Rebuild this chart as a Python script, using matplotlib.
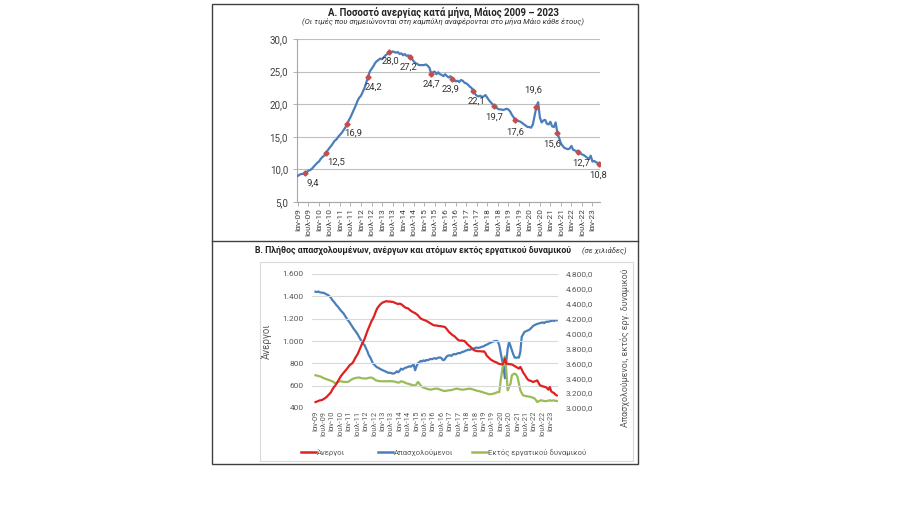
import matplotlib
matplotlib.use('Agg')
import matplotlib.pyplot as plt
import matplotlib.ticker as mticker
from matplotlib.lines import Line2D
from matplotlib.patches import Rectangle
import numpy as np

plt.rcParams['font.family'] = ['Roboto', 'DejaVu Sans']

# ---- data (monthly, Jan 2009 - May 2023) ----
years = [str(y)[2:] for y in range(2009, 2024)]
tick_labels = []
for y in years:
    tick_labels.append('Ιαν-' + y)
    if y != '23':
        tick_labels.append('Ιουλ-' + y)

# unemployment rate %
rate = [
    9.0, 9.2, 9.3, 9.3, 9.4, 9.6, 9.8, 9.9, 10.1, 10.4, 10.7, 11.0,
    11.2, 11.6, 11.9, 12.1, 12.5, 12.9, 13.3, 13.6, 14.0, 14.4, 14.6, 15.0,
    15.3, 15.6, 16.0, 16.4, 16.9, 17.5, 18.0, 18.6, 19.2, 19.8, 20.5, 21.0,
    21.3, 21.9, 22.5, 23.3, 24.2, 25.0, 25.4, 25.8, 26.3, 26.6, 26.8, 27.0,
    26.9, 27.2, 27.5, 27.7, 28.0, 27.9, 28.1, 28.0, 27.9, 28.0, 27.7, 27.8,
    27.5, 27.7, 27.4, 27.5, 27.2, 27.0, 26.6, 26.3, 26.2, 26.0, 26.0, 26.0,
    26.0, 26.1, 25.9, 25.6, 24.7, 24.9, 25.0, 24.6, 24.9, 24.6, 24.5, 24.3,
    24.6, 24.3, 24.1, 24.3, 23.9, 23.7, 23.5, 23.6, 23.4, 23.7, 23.6, 23.3,
    23.2, 23.0, 22.7, 22.5, 22.1, 21.6, 21.3, 21.2, 21.3, 21.1, 21.2, 21.4,
    21.0, 20.6, 20.3, 20.0, 19.7, 19.5, 19.3, 19.2, 19.2, 19.1, 19.2, 19.3,
    19.2, 18.9, 18.4, 18.0, 17.6, 17.5, 17.4, 17.3, 17.1, 16.9, 16.7, 16.5,
    16.5, 16.4, 16.9, 18.2, 19.6, 20.3, 18.0, 17.2, 17.5, 17.6, 17.0, 16.9,
    17.3, 16.6, 16.5, 17.2, 15.6, 14.8, 14.0, 13.6, 13.3, 13.2, 13.1, 13.2,
    13.6, 13.0, 12.9, 12.8, 12.7, 12.5, 12.3, 12.2, 12.0, 11.8, 11.6, 12.1,
    11.2, 11.3, 11.1, 11.0, 10.8,
]

# thousands of persons
unemployed = [
    453, 458, 462, 468, 470, 474, 482, 490, 500, 513, 525, 540,
    565, 585, 600, 618, 640, 662, 684, 700, 715, 730, 744, 760,
    778, 790, 798, 815, 840, 862, 881, 910, 940, 970, 992, 1020,
    1055, 1090, 1120, 1150, 1180, 1202, 1230, 1265, 1292, 1310, 1325, 1337,
    1345, 1350, 1355, 1357, 1352, 1355, 1350, 1351, 1345, 1340, 1335, 1330,
    1335, 1330, 1320, 1310, 1300, 1295, 1292, 1280, 1270, 1262, 1255, 1250,
    1240, 1230, 1215, 1202, 1195, 1190, 1185, 1180, 1172, 1165, 1158, 1150,
    1142, 1140, 1138, 1135, 1133, 1133, 1132, 1128, 1127, 1115, 1100, 1082,
    1072, 1060, 1050, 1043, 1030, 1018, 1007, 1003, 1005, 1002, 1001, 990,
    975, 962, 953, 940, 928, 917, 913, 910, 908, 909, 908, 905,
    908, 895, 870, 857, 845, 833, 825, 818, 813, 808, 800, 795,
    792, 790, 800, 845, 798, 795, 793, 792, 790, 782, 775, 768,
    760, 753, 768, 745, 718, 700, 680, 660, 648, 645, 640, 633,
    638, 640, 648, 625, 603, 598, 594, 590, 588, 578, 564, 588,
    550, 540, 534, 520, 513,
]

employed = [
    4562, 4558, 4565, 4555, 4550, 4549, 4545, 4535, 4525, 4517, 4500, 4480,
    4450, 4430, 4405, 4380, 4360, 4335, 4310, 4290, 4270, 4240, 4210, 4180,
    4158, 4130, 4100, 4070, 4046, 4020, 3990, 3956, 3925, 3890, 3860, 3844,
    3800, 3760, 3709, 3680, 3640, 3597, 3580, 3560, 3545, 3538, 3525, 3515,
    3507, 3500, 3490, 3482, 3471, 3475, 3468, 3462, 3465, 3475, 3493, 3480,
    3500, 3529, 3515, 3530, 3540, 3545, 3552, 3560, 3555, 3570, 3583, 3507,
    3560, 3600, 3615, 3633, 3625, 3640, 3630, 3645, 3642, 3650, 3660, 3655,
    3664, 3670, 3660, 3672, 3678, 3678, 3665, 3642, 3650, 3680, 3700, 3705,
    3709, 3700, 3720, 3725, 3720, 3731, 3740, 3735, 3748, 3754, 3760, 3770,
    3775, 3785, 3780, 3790, 3795, 3800, 3808, 3812, 3805, 3812, 3820, 3825,
    3830, 3843, 3850, 3860, 3870, 3880, 3888, 3895, 3900, 3902, 3895, 3843,
    3740, 3641, 3560, 3400, 3619, 3800, 3888, 3830, 3776, 3720, 3677, 3675,
    3680, 3677, 3754, 3956, 3990, 4023, 4030, 4040, 4046, 4060, 4080, 4100,
    4113, 4120, 4130, 4135, 4140, 4145, 4150, 4140, 4155, 4160, 4158, 4165,
    4170, 4175, 4168, 4180, 4178,
]

inactive = [
    3440, 3435, 3430, 3425, 3420, 3408, 3400, 3392, 3385, 3380, 3372, 3365,
    3360, 3345, 3336, 3340, 3350, 3355, 3359, 3355, 3352, 3350, 3350, 3350,
    3360, 3375, 3385, 3395, 3400, 3405, 3408, 3410, 3405, 3400, 3398, 3395,
    3395, 3400, 3405, 3408, 3408, 3400, 3385, 3372, 3368, 3362, 3360, 3359,
    3359, 3360, 3358, 3360, 3359, 3362, 3358, 3359, 3355, 3352, 3345, 3341,
    3345, 3359, 3355, 3348, 3338, 3330, 3327, 3320, 3315, 3310, 3305, 3300,
    3320, 3350, 3330, 3300, 3285, 3273, 3268, 3260, 3255, 3250, 3246, 3250,
    3255, 3258, 3260, 3260, 3252, 3245, 3238, 3232, 3229, 3230, 3235, 3238,
    3238, 3242, 3248, 3252, 3258, 3260, 3255, 3250, 3248, 3246, 3248, 3252,
    3255, 3258, 3260, 3255, 3250, 3245, 3238, 3232, 3229, 3225, 3218, 3215,
    3205, 3202, 3195, 3190, 3184, 3186, 3190, 3193, 3200, 3208, 3215, 3212,
    3372, 3500, 3619, 3695, 3507, 3238, 3280, 3328, 3440, 3455, 3462, 3450,
    3417, 3330, 3238, 3200, 3170, 3165, 3160, 3157, 3155, 3150, 3145, 3139,
    3130, 3110, 3081, 3090, 3100, 3103, 3098, 3094, 3092, 3094, 3100, 3103,
    3098, 3100, 3103, 3096, 3094,
]

series_names = ['Άνεργοι', 'Απασχολούμενοι', 'Εκτός εργατικού δυναμικού']

# label offsets (px) for May values
label_off = [(8, -10), (10, -9), (6, -9), (5, -10), (1, -9), (-2, -10), (0, -11),
             (-2, -10), (3, -11), (0, -11), (0, -12), (-3, 17), (-5, -11),
             (3, -11), (-1, -11)]

months = np.arange(len(rate))
may_idx = months[4::12]
ticks = np.arange(0, 169, 6)

W, H = 900, 516
fig = plt.figure(figsize=(9, 5.16), dpi=100)

def fx(px):
    return px / W

def fy(py):
    return 1 - py / H

# frames
fig.add_artist(Rectangle((fx(212), fy(464)), fx(638) - fx(212), fy(4) - fy(464),
                         fill=False, edgecolor='#404040', lw=1.0))
fig.add_artist(Line2D([fx(212), fx(638)], [fy(241), fy(241)], color='#404040', lw=1.0))
fig.add_artist(Rectangle((fx(260), fy(461)), fx(633) - fx(260), fy(262) - fy(461),
                         fill=False, edgecolor='#D9D9D9', lw=0.8))

def comma_fmt(dec):
    def f(v, pos):
        s = f'{v:,.{dec}f}'
        return s.replace(',', 'X').replace('.', ',').replace('X', '.')
    return mticker.FuncFormatter(f)

# ---- top chart ----
fig.text(fx(444), fy(12), 'Α. Ποσοστό ανεργίας κατά μήνα, Μάιος 2009 – 2023',
         ha='center', va='center', fontsize=6.9, fontweight='bold', color='#222222')
fig.text(fx(443), fy(22), '(Οι τιμές που σημειώνονται στη καμπύλη αναφέρονται στο μήνα Μάιο κάθε έτους)',
         ha='center', va='center', fontsize=5.6, style='italic', color='#333333')

ax1 = fig.add_axes([fx(297), fy(202), fx(600) - fx(297), fy(39) - fy(202)])
ax1.plot(months, rate, color='#4A7EBB', lw=1.6, zorder=3)
ax1.plot(may_idx, np.array(rate)[may_idx], 'D', color='#C0504D', ms=2.6, zorder=4)
for i, m in enumerate(may_idx):
    v = rate[m]
    dx, dy = label_off[i]
    ax1.annotate(f'{v:.1f}'.replace('.', ','), (m, v), xytext=(dx * 0.72, dy * 0.72),
                 textcoords='offset points', ha='center', va='center',
                 fontsize=6.8, color='#333333')
ax1.set_ylim(5, 30)
ax1.set_xlim(-0.5, 172.3)
ax1.set_yticks([5, 10, 15, 20, 25, 30])
ax1.yaxis.set_major_formatter(comma_fmt(1))
ax1.set_xticks(ticks)
ax1.set_xticklabels(tick_labels, rotation=90, fontsize=6, color='#404040')
ax1.tick_params(axis='y', labelsize=7, colors='#404040', length=3, width=0.6)
ax1.tick_params(axis='x', length=3, width=0.6, color='#A6A6A6', pad=1.5)
ax1.tick_params(axis='y', color='#A6A6A6')
ax1.grid(axis='y', color='#BFBFBF', lw=0.8)
ax1.set_axisbelow(True)
for s in ['top', 'right']:
    ax1.spines[s].set_visible(False)
for s in ['left', 'bottom']:
    ax1.spines[s].set_color('#A6A6A6')
    ax1.spines[s].set_linewidth(0.8)

# ---- bottom chart ----
fig.text(fx(255), fy(250), 'Β. Πλήθος απασχολουμένων, ανέργων και ατόμων εκτός εργατικού δυναμικού',
         ha='left', va='center', fontsize=6.3, fontweight='bold', color='#222222')
fig.text(fx(582), fy(250), '(σε χιλιάδες)', ha='left', va='center', fontsize=5.5,
         style='italic', color='#333333')

ax2 = fig.add_axes([fx(312), fy(408), fx(557.5) - fx(312), fy(274) - fy(408)])
ax3 = ax2.twinx()
ax2.plot(months, unemployed, color='#E02020', lw=1.6, zorder=3)
ax3.plot(months, employed, color='#4A7EBB', lw=1.6)
ax3.plot(months, inactive, color='#9BBB59', lw=1.6)
ax2.set_zorder(ax3.get_zorder() + 1)
ax2.patch.set_visible(False)

ax2.set_ylim(400, 1600)
ax3.set_ylim(3000, 4800)
ax2.set_xlim(-2.5, 172.5)
ax2.set_yticks(np.arange(400, 1601, 200))
ax3.set_yticks(np.arange(3000, 4801, 200))
ax2.yaxis.set_major_formatter(comma_fmt(0))
ax3.yaxis.set_major_formatter(comma_fmt(1))
ax2.set_xticks(ticks)
ax2.set_xticklabels(tick_labels, rotation=90, fontsize=5.4, color='#595959')
ax2.tick_params(axis='x', length=0, pad=2)
ax2.tick_params(axis='y', length=0, labelsize=6, colors='#595959', pad=6)
ax3.tick_params(axis='y', length=0, labelsize=6, colors='#595959', pad=6)
ax2.grid(axis='y', color='#D9D9D9', lw=0.8)
for a in (ax2, ax3):
    for s in a.spines.values():
        s.set_visible(False)
ax2.set_ylabel('Άνεργοι', fontsize=7, color='#595959')
ax3.set_ylabel('Απασχολούμενοι, εκτός εργ. δυναμικού', fontsize=6.4, color='#595959',
               rotation=90)
ax2.yaxis.set_label_coords(fx(272 - 312) / (fx(557.5) - fx(312)), 0.5)
ax3.yaxis.set_label_coords(1 + (fx(620 - 557.5)) / (fx(557.5) - fx(312)), 0.45)

# legend drawn by hand
leg_colors = ['#E02020', '#4A7EBB', '#9BBB59']
leg_x = [301, 378, 472]
for name, c, x0 in zip(series_names, leg_colors, leg_x):
    fig.add_artist(Line2D([fx(x0), fx(x0 + 15)], [fy(452), fy(452)], color=c, lw=1.8))
    fig.text(fx(x0 + 16), fy(452), name, ha='left', va='center', fontsize=5.6, color='#595959')

fig.savefig('out.png', dpi=100, facecolor='white')
